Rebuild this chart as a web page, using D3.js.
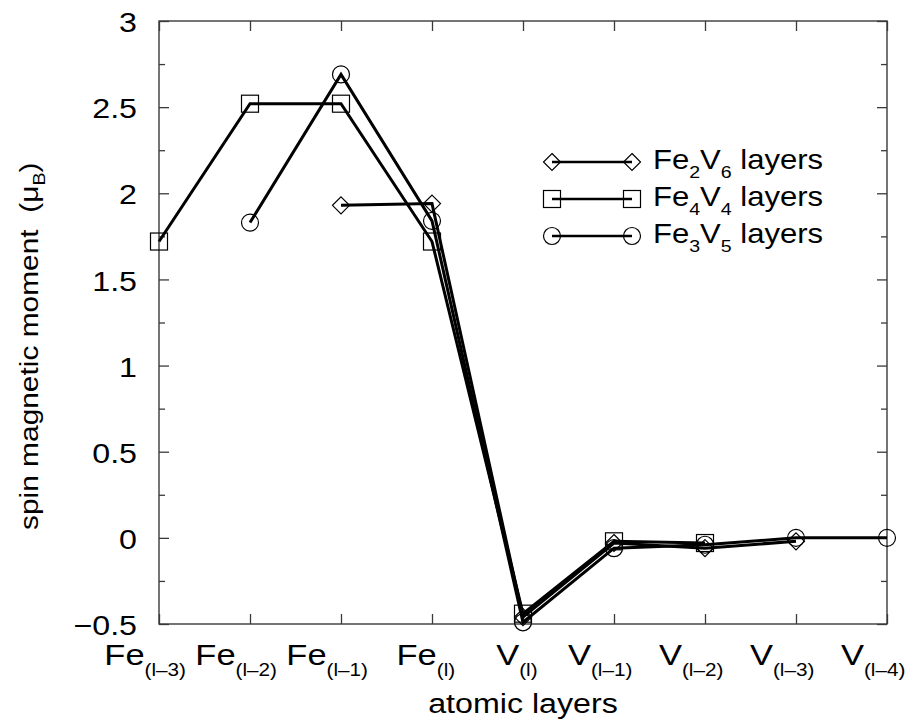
<!DOCTYPE html>
<html>
<head>
<meta charset="utf-8">
<script src="https://cdn.jsdelivr.net/npm/d3@7"></script>
<style>
  html, body { margin: 0; padding: 0; background: #fff; }
  svg { display: block; }
  text { font-family: "Liberation Sans", Arial, Helvetica, sans-serif; fill: #000; white-space: pre; }
</style>
</head>
<body>
<svg id="chart" width="907" height="721"></svg>
<script>
// ---------------- data ----------------
const catMain = ["Fe", "Fe", "Fe", "Fe", "V", "V", "V", "V", "V"];
const catSub  = ["(l\u20133)", "(l\u20132)", "(l\u20131)", "(l)", "(l)", "(l\u20131)", "(l\u20132)", "(l\u20133)", "(l\u20134)"];

const fe2v6 = [null, null, 1.93, 1.94, -0.46, -0.03, -0.06, -0.02, null];
const fe4v4 = [1.72, 2.52, 2.52, 1.72, -0.44, -0.02, -0.03, null, null];
const fe3v5 = [null, 1.83, 2.69, 1.84, -0.49, -0.06, -0.04, 0.00, 0.00];

const yTicks = [-0.5, 0, 0.5, 1, 1.5, 2, 2.5, 3];
const yMinor = [-0.25, 0.25, 0.75, 1.25, 1.75, 2.25, 2.75];

const seriesNames = [
  ["Fe", "2", "V", "6", " layers"],
  ["Fe", "4", "V", "4", " layers"],
  ["Fe", "3", "V", "5", " layers"]
];
const seriesMarkers = ["diamond", "square", "circle"];
const seriesValues = [fe2v6, fe4v4, fe3v5];

const xTitle = "atomic layers";
const yTitleMain = "spin magnetic moment  (\u03bc";
const yTitleSub = "B";
const yTitleEnd = ")";

// ---------------- layout ----------------
const SX = 1.15; // horizontal text stretch
const L = 159, R = 887, T = 21, B = 624;
const svg = d3.select("#chart");

const x = d3.scaleLinear().domain([0, catMain.length - 1]).range([L, R]);
const y = d3.scaleLinear().domain([-0.5, 3]).range([B, T]);
const catIdx = catMain.map((d, i) => i);
const fmt = d3.format("~g");

const frameColor = "#3a3a3a";

function styleAxis(g) {
  g.select(".domain").remove();
  g.selectAll(".tick line").attr("stroke", frameColor).attr("stroke-width", 1.3);
}

// left axis with labels
const gl = svg.append("g").attr("transform", `translate(${L},0)`)
  .call(d3.axisLeft(y).tickValues(yTicks).tickSize(-10).tickFormat(fmt))
  .call(styleAxis);
gl.selectAll(".tick text")
  .attr("x", null)
  .attr("dy", "0.38em")
  .attr("fill", "#000")
  .style("font-size", "28px")
  .attr("transform", `translate(-22,0) scale(${SX},1)`);
svg.append("g").attr("transform", `translate(${L},0)`)
  .call(d3.axisLeft(y).tickValues(yMinor).tickSize(-6).tickFormat(""))
  .call(styleAxis);
// right axis
svg.append("g").attr("transform", `translate(${R},0)`)
  .call(d3.axisRight(y).tickValues(yTicks).tickSize(-10).tickFormat(""))
  .call(styleAxis);
svg.append("g").attr("transform", `translate(${R},0)`)
  .call(d3.axisRight(y).tickValues(yMinor).tickSize(-6).tickFormat(""))
  .call(styleAxis);
// bottom / top
svg.append("g").attr("transform", `translate(0,${B})`)
  .call(d3.axisBottom(x).tickValues(catIdx).tickSize(-10).tickFormat(""))
  .call(styleAxis);
svg.append("g").attr("transform", `translate(0,${T})`)
  .call(d3.axisTop(x).tickValues(catIdx).tickSize(-10).tickFormat(""))
  .call(styleAxis);

// frame
svg.append("rect")
  .attr("x", L).attr("y", T).attr("width", R - L).attr("height", B - T)
  .attr("fill", "none").attr("stroke", frameColor).attr("stroke-width", 1.4);

// x category labels
catIdx.forEach(i => {
  const g = svg.append("g");
  const t = g.append("text").attr("x", 0).attr("y", 0).style("font-size", "30px");
  t.append("tspan").text(catMain[i]);
  const sub = t.append("tspan").attr("dy", 11).style("font-size", "18px").text(catSub[i]);
  const W = t.node().getBBox().width * SX;
  const S = sub.node().getComputedTextLength() * SX;
  g.attr("transform", `translate(${x(i) - W / 2 - S / 3},665) scale(${SX},1)`);
});

// x title
svg.append("g").attr("transform", `translate(${(L + R) / 2},713) scale(${SX},1)`)
  .append("text").attr("text-anchor", "middle").style("font-size", "28px").text(xTitle);

// y title
{
  const t = svg.append("g").attr("transform", `translate(38,530) rotate(-90) scale(${SX},1)`)
    .append("text").style("font-size", "26px");
  t.append("tspan").text(yTitleMain);
  t.append("tspan").attr("dy", 7).style("font-size", "17px").text(yTitleSub);
  t.append("tspan").attr("dy", -7).text(yTitleEnd);
}

// ---------------- marks ----------------
const line = d3.line()
  .defined(d => d.v !== null)
  .x(d => x(d.i)).y(d => y(d.v));

function drawMarker(g, type, cx, cy) {
  if (type === "diamond") {
    const r = 8.5;
    g.append("path").attr("d", `M${cx},${cy - r}L${cx + r},${cy}L${cx},${cy + r}L${cx - r},${cy}Z`)
      .attr("fill", "none").attr("stroke", "#000").attr("stroke-width", 1.2);
  } else if (type === "square") {
    const h = 8.5;
    g.append("rect").attr("x", cx - h).attr("y", cy - h).attr("width", 2 * h).attr("height", 2 * h)
      .attr("fill", "none").attr("stroke", "#000").attr("stroke-width", 1.2);
  } else {
    g.append("circle").attr("cx", cx).attr("cy", cy).attr("r", 8.5)
      .attr("fill", "none").attr("stroke", "#000").attr("stroke-width", 1.2);
  }
}

const plot = svg.append("g");
seriesValues.forEach((vals, s) => {
  const pts = vals.map((v, i) => ({ i, v }));
  plot.append("path").datum(pts).attr("d", line)
    .attr("fill", "none").attr("stroke", "#000").attr("stroke-width", 3)
    .attr("stroke-linejoin", "miter");
});
seriesValues.forEach((vals, s) => {
  vals.forEach((v, i) => {
    if (v !== null) drawMarker(plot, seriesMarkers[s], x(i), y(v));
  });
});

// ---------------- legend ----------------
const legRowY = [162, 199, 236];
seriesNames.forEach((parts, s) => {
  const ly = legRowY[s];
  const g = svg.append("g");
  g.append("line").attr("x1", 552).attr("x2", 632).attr("y1", ly).attr("y2", ly)
    .attr("stroke", "#000").attr("stroke-width", 2.5);
  drawMarker(g, seriesMarkers[s], 552, ly);
  drawMarker(g, seriesMarkers[s], 632, ly);
  const t = svg.append("g").attr("transform", `translate(653,${ly + 7}) scale(${SX},1)`)
    .append("text").style("font-size", "27px");
  t.append("tspan").text(parts[0]);
  t.append("tspan").attr("dy", 9).style("font-size", "17px").text(parts[1]);
  t.append("tspan").attr("dy", -9).text(parts[2]);
  t.append("tspan").attr("dy", 9).style("font-size", "17px").text(parts[3]);
  t.append("tspan").attr("dy", -9).text(parts[4]);
});
</script>
</body>
</html>
